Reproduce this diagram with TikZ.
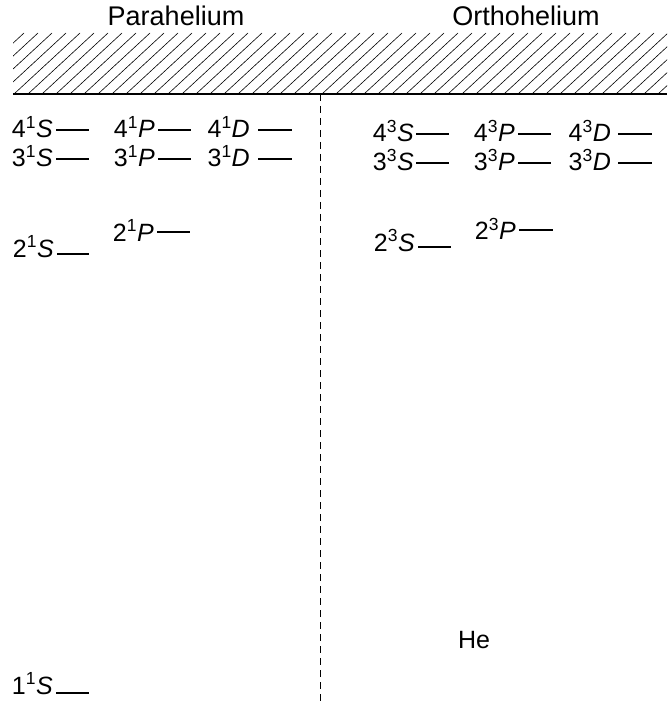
\documentclass[tikz,border=0pt]{standalone}
\usepackage{fontspec}
\setmainfont{Liberation Sans}
\usepackage{tikz}
\usetikzlibrary{positioning}

\begin{document}
\begin{tikzpicture}[
    x=1pt, y=-1pt,
    title/.style={font=\fontsize{27}{32}\selectfont, anchor=base, inner sep=0pt},
    term/.style={font=\fontsize{25}{30}\selectfont, anchor=base east, inner sep=0pt},
    lvl/.style={line width=1.7pt},
    hatch/.style={line width=0.6pt},
    divider/.style={line width=0.8pt, dash pattern=on 7pt off 5pt}
]
\useasboundingbox (0,0) rectangle (667,711);

% Titles
\node[title] (para) at (176,26) {Parahelium};
\node[title] (ortho) at (526,26) {Orthohelium};

% Continuum
\begin{scope}
    \clip (13,33) rectangle (667,94);
    \foreach \x in {-84,-70,...,667}
        \draw[hatch] (\x,94) -- ++(66,-61);
\end{scope}
\draw[line width=2pt] (13,94) -- (667,94);

% Divider
\coordinate (divtop) at (320,94);
\coordinate (divbot) at (320,703);
\draw[divider] (divtop) -- (divbot);

% Singlet terms
\node[term] (s4S) at (53,138) {4\textsuperscript{1}\textit{S}};
\node[term] (s4P) at (155,138) {4\textsuperscript{1}\textit{P}};
\node[term] (s4D) at (250,138) {4\textsuperscript{1}\textit{D}};
\node[term] (s3S) at (53,167) {3\textsuperscript{1}\textit{S}};
\node[term] (s3P) at (155,167) {3\textsuperscript{1}\textit{P}};
\node[term] (s3D) at (250,167) {3\textsuperscript{1}\textit{D}};
\node[term] (s2S) at (54,257) {2\textsuperscript{1}\textit{S}};
\node[term] (s2P) at (154,241) {2\textsuperscript{1}\textit{P}};
\node[term] (s1S) at (53,694) {1\textsuperscript{1}\textit{S}};

% Singlet levels
\draw[lvl] (56,130) -- (89,130);
\draw[lvl] (158,130) -- (191,130);
\draw[lvl] (258,130) -- (292,130);
\draw[lvl] (56,159) -- (89,159);
\draw[lvl] (158,159) -- (191,159);
\draw[lvl] (258,159) -- (292,159);
\draw[lvl] (57,254) -- (89,254);
\draw[lvl] (157,232) -- (190,232);
\draw[lvl] (56,693) -- (89,693);

% Triplet terms
\node[term] (t4S) at (414,142) {4\textsuperscript{3}\textit{S}};
\node[term] (t4P) at (515,142) {4\textsuperscript{3}\textit{P}};
\node[term] (t4D) at (611,142) {4\textsuperscript{3}\textit{D}};
\node[term] (t3S) at (414,171) {3\textsuperscript{3}\textit{S}};
\node[term] (t3P) at (515,171) {3\textsuperscript{3}\textit{P}};
\node[term] (t3D) at (611,171) {3\textsuperscript{3}\textit{D}};
\node[term] (t2S) at (415,251) {2\textsuperscript{3}\textit{S}};
\node[term] (t2P) at (516,240) {2\textsuperscript{3}\textit{P}};

% Triplet levels
\draw[lvl] (416,134) -- (449,134);
\draw[lvl] (518,134) -- (551,134);
\draw[lvl] (618,134) -- (652,134);
\draw[lvl] (416,163) -- (449,163);
\draw[lvl] (518,163) -- (551,163);
\draw[lvl] (618,163) -- (652,163);
\draw[lvl] (418,247) -- (451,247);
\draw[lvl] (519,230) -- (553,230);

\node[font=\fontsize{25}{30}\selectfont, inner sep=0pt] (he) at (474,640) {He};

\end{tikzpicture}
\end{document}
